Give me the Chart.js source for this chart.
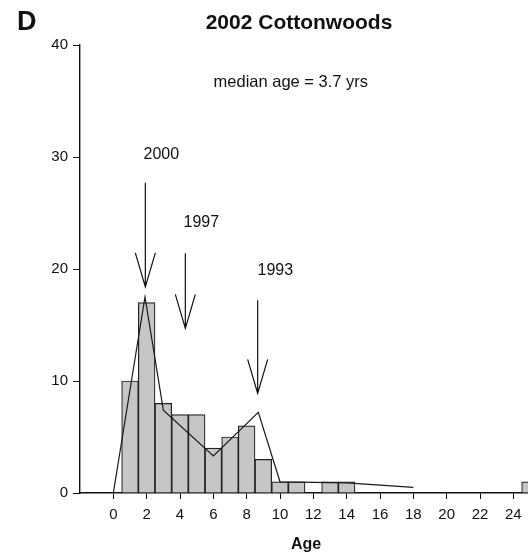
<!DOCTYPE html>
<html>
<head>
<meta charset="utf-8">
<script src="https://cdn.jsdelivr.net/npm/chart.js@4/dist/chart.umd.min.js"></script>
<style>
  html, body { margin: 0; padding: 0; background: #fff; overflow: hidden; }
  #wrap { width: 600px; height: 556px; }
</style>
</head>
<body>
<div id="wrap"><canvas id="ageChart" width="600" height="556"></canvas></div>
<script>
// histogram: number of trees per age class
const ages   = [1, 2, 3, 4, 5, 6, 7, 8, 9, 10, 11, 12, 13, 14, 15, 16, 17, 18, 19, 20, 21, 22, 23, 24, 25];
const counts = [10, 17, 8, 7, 7, 4, 5, 6, 3, 1, 1, 0, 1, 1, 0, 0, 0, 0, 0, 0, 0, 0, 0, 0, 1];

// smoothed line drawn over the bars
const lineAges   = [0, 1.9, 3, 6, 8.7, 10, 14, 18];
const lineValues = [0, 17.5, 7.4, 3.3, 7.2, 1.0, 0.9, 0.5];

// flood years marked with arrows (age, top, tip)
const arrowYears = ['2000', '1997', '1993'];
const arrowAges  = [1.92, 4.32, 8.66];
const arrowTops  = [27.7, 21.4, 17.2];
const arrowTips  = [18.4, 14.7, 8.9];
const labelAges  = [2.88, 5.28, 9.72];
const labelVals  = [30.2, 24.1, 19.9];

const yTicks = [0, 10, 20, 30, 40];

const FONT = '"Liberation Sans", Arial, Helvetica, sans-serif';

// arrows, labels and title drawn on top
const annotPlugin = {
  id: 'annot',
  afterDatasetsDraw(chart) {
    const ctx = chart.ctx;
    const xs = chart.scales.x, ys = chart.scales.y;
    ctx.save();
    ctx.strokeStyle = '#111';
    ctx.fillStyle = '#111';
    ctx.lineWidth = 1.2;

    for (let i = 0; i < arrowYears.length; i++) {
      const x = xs.getPixelForValue(arrowAges[i]);
      const yTop = ys.getPixelForValue(arrowTops[i]);
      const yTip = ys.getPixelForValue(arrowTips[i]);
      ctx.beginPath();
      ctx.moveTo(x, yTop);
      ctx.lineTo(x, yTip);
      ctx.moveTo(x - 10, yTip - 34);
      ctx.lineTo(x, yTip);
      ctx.lineTo(x + 10, yTip - 34);
      ctx.stroke();

      ctx.font = '16px ' + FONT;
      ctx.textAlign = 'center';
      ctx.textBaseline = 'middle';
      ctx.fillText(arrowYears[i], xs.getPixelForValue(labelAges[i]), ys.getPixelForValue(labelVals[i]));
    }

    ctx.font = '16.5px ' + FONT;
    ctx.fillText('median age = 3.7 yrs', xs.getPixelForValue(10.65), ys.getPixelForValue(36.7));

    // axis title, centred as in the figure
    ctx.font = 'bold 16px ' + FONT;
    ctx.fillText('Age', 306, 545);

    ctx.font = 'bold 21px ' + FONT;
    ctx.fillText('2002 Cottonwoods', 299, 23);
    ctx.font = 'bold 27px ' + FONT;
    ctx.textAlign = 'left';
    ctx.fillText('D', 17, 23);
    ctx.restore();
  }
};

const barData = ages.map((a, i) => ({ x: a, y: counts[i] > 0 ? counts[i] : null }));
const lineData = lineAges.map((a, i) => ({ x: a, y: lineValues[i] }));

new Chart(document.getElementById('ageChart').getContext('2d'), {
  type: 'bar',
  data: {
    datasets: [
      {
        type: 'line',
        data: lineData,
        borderColor: '#1a1a1a',
        borderWidth: 1.2,
        pointRadius: 0,
        tension: 0,
        fill: false,
        order: 0
      },
      {
        type: 'bar',
        data: barData,
        backgroundColor: '#c6c6c6',
        borderColor: '#222',
        borderWidth: 1.2,
        barPercentage: 1,
        categoryPercentage: 1,
        grouped: false,
        order: 1
      }
    ]
  },
  options: {
    responsive: false,
    animation: false,
    layout: { padding: { top: 45, right: 20, left: 0, bottom: 0 } },
    plugins: {
      legend: { display: false },
      tooltip: { enabled: false },
      title: { display: false }
    },
    scales: {
      x: {
        type: 'linear',
        offset: false,
        min: -2,
        max: 28,
        grid: { display: true, drawOnChartArea: false, drawTicks: true, tickLength: 6, color: '#111', offset: false },
        border: { display: true, color: '#111', width: 1.4 },
        ticks: {
          stepSize: 2,
          padding: 7,
          color: '#111',
          font: { family: FONT, size: 15 },
          maxRotation: 0,
          autoSkip: false
        },
        afterBuildTicks: s => { s.ticks = s.ticks.filter(t => t.value >= 0 && t.value <= 26); },
        afterFit: s => { s.height = 63; }
      },
      y: {
        min: 0,
        max: 40,
        grid: { display: true, drawOnChartArea: false, drawTicks: true, tickLength: 7, color: '#111' },
        border: { display: true, color: '#111', width: 1.4 },
        ticks: {
          color: '#111',
          padding: 5,
          font: { family: FONT, size: 15 }
        },
        afterBuildTicks: s => { s.ticks = yTicks.map(v => ({ value: v })); },
        afterFit: s => { s.width = 80; }
      }
    }
  },
  plugins: [annotPlugin]
});
</script>
</body>
</html>
